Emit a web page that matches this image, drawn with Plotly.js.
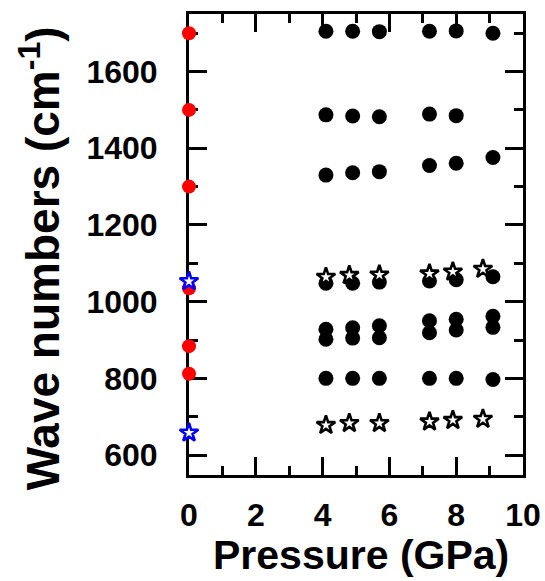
<!DOCTYPE html>
<html>
<head>
<meta charset="utf-8">
<script src="https://cdn.plot.ly/plotly-3.0.1.min.js"></script>
<style>html,body{margin:0;padding:0;background:#fff;}#chart{width:545px;height:581px;}</style>
</head>
<body>
<div id="chart"></div>
<script>
// High-pressure data (black circles)
const pressureCircles = [4.1, 4.9, 5.7, 7.2, 8.0, 9.1];
const mode1700 = [1705, 1705, 1704, 1705, 1706, 1700];
const mode1485 = [1487, 1484, 1482, 1489, 1485, null];
const mode1340 = [1330, 1336, 1339, 1355, 1361, 1376];
const mode1050 = [1048, 1048, 1051, 1054, 1057, 1065];
const mode930 = [928, 932, 937, 950, 954, 962];
const mode905 = [902, 905, 906, 919, 926, 933];
const mode800 = [800, 800, 800, 800, 800, 797];
// High-pressure data (open stars)
const pressureStars = [4.1, 4.8, 5.7, 7.2, 7.9, 8.8];
const starUpper = [1064, 1069, 1070, 1073, 1078, 1085];
const starLower = [678, 683, 683, 687, 691, 694];
// Ambient pressure data
const ambientCircles = [1700, 1500, 1300, 1035, 884, 812];
const ambientStars = [1053, 658];

const circleRows = [mode1700, mode1485, mode1340, mode1050, mode930, mode905, mode800];
let cx = [], cy = [];
circleRows.forEach(r => r.forEach((v, i) => { if (v !== null) { cx.push(pressureCircles[i]); cy.push(v); } }));
let sx = [], sy = [];
[starUpper, starLower].forEach(r => r.forEach((v, i) => { sx.push(pressureStars[i]); sy.push(v); }));

const traces = [
  {x: cx, y: cy, type: 'scatter', mode: 'markers', cliponaxis: false,
   marker: {symbol: 'circle', size: 15, color: '#000000'}},
  {x: ambientCircles.map(() => 0), y: ambientCircles, type: 'scatter', mode: 'markers', cliponaxis: false,
   marker: {symbol: 'circle', size: 14, color: '#ff0000'}},
  {x: sx, y: sy, type: 'scatter', mode: 'markers', cliponaxis: false,
   marker: {symbol: 'star', size: 14, color: '#ffffff', line: {color: '#000000', width: 2.6}}},
  {x: ambientStars.map(() => 0), y: ambientStars, type: 'scatter', mode: 'markers', cliponaxis: false,
   marker: {symbol: 'star', size: 14, color: '#ffffff', line: {color: '#0000ff', width: 2.6}}}
];

const FONT = 'Liberation Sans, Arial, sans-serif';
const tickFont = {family: FONT, size: 32, color: '#000', weight: 'bold'};
const axisCommon = {
  showgrid: false, zeroline: false, showline: true, linewidth: 3, linecolor: '#000',
  mirror: 'ticks', ticks: 'inside', ticklen: 18, tickwidth: 3, tickcolor: '#000',
  tickfont: tickFont, layer: 'below traces'
};

const layout = {
  width: 545, height: 581,
  margin: {l: 189, r: 22, t: 14, b: 106},
  paper_bgcolor: '#fff', plot_bgcolor: '#fff',
  showlegend: false,
  xaxis: Object.assign({}, axisCommon, {
    range: [0, 10], tick0: 0, dtick: 2,
    minor: {dtick: 1, ticks: 'inside', ticklen: 9, tickwidth: 3, tickcolor: '#000'},
    ticklabelstandoff: 10
  }),
  yaxis: Object.assign({}, axisCommon, {
    range: [548, 1750], tick0: 0, dtick: 200,
    minor: {dtick: 100, ticks: 'inside', ticklen: 9, tickwidth: 3, tickcolor: '#000'},
    ticklabelstandoff: 22
  }),
  annotations: [
    {
      text: 'Wave numbers (cm<sup>-1</sup>)', textangle: -90, showarrow: false,
      xref: 'paper', yref: 'paper', x: -0.446, y: 0.47, xanchor: 'center', yanchor: 'middle',
      font: {family: FONT, size: 46, color: '#000', weight: 'bold'}
    },
    {
      text: 'Pressure (GPa)', showarrow: false,
      xref: 'paper', yref: 'paper', x: 0.515, y: -0.2278, xanchor: 'center', yanchor: 'bottom',
      font: {family: FONT, size: 41, color: '#000', weight: 'bold'}
    }
  ]
};

Plotly.newPlot('chart', traces, layout, {displayModeBar: false, staticPlot: true});
</script>
</body>
</html>
